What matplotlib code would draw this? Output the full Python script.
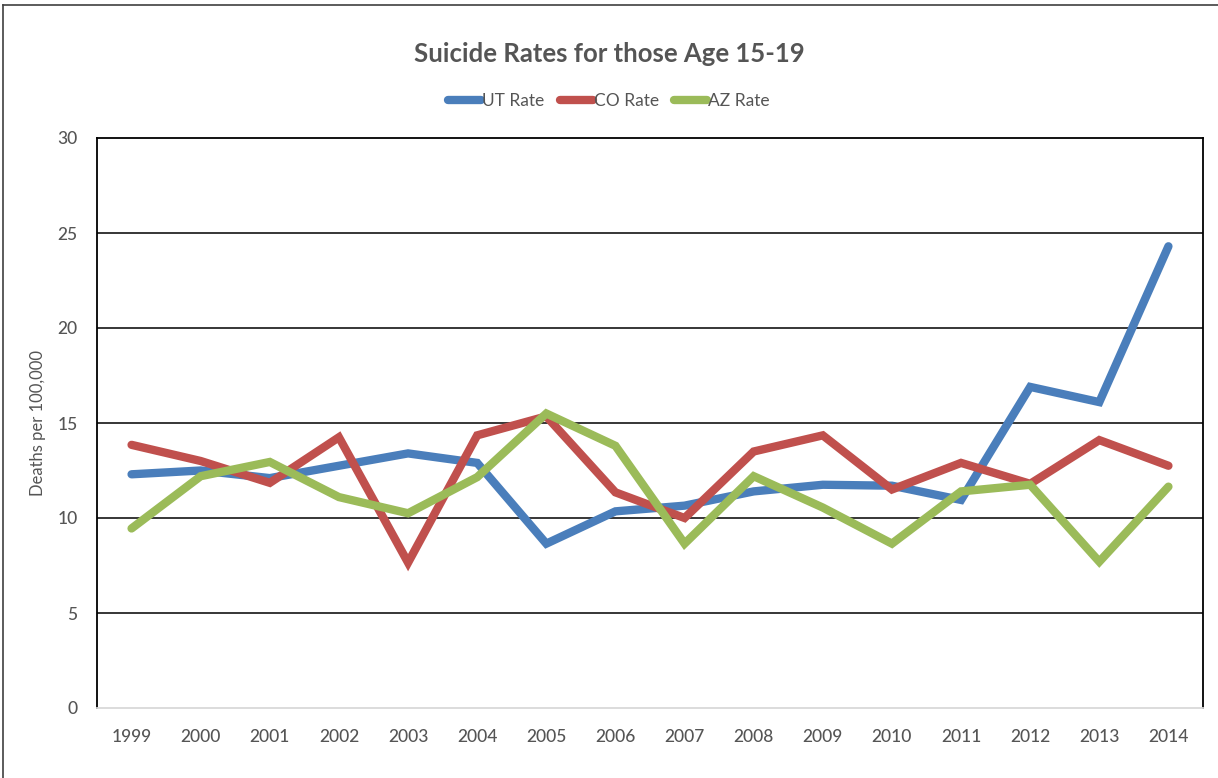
import matplotlib
matplotlib.use("Agg")
import matplotlib.pyplot as plt
from matplotlib.lines import Line2D

years = ["1999", "2000", "2001", "2002", "2003", "2004", "2005", "2006",
         "2007", "2008", "2009", "2010", "2011", "2012", "2013", "2014"]
ut_rate = [12.3, 12.5, 12.1, 12.75, 13.4, 12.9, 8.65, 10.35,
           10.65, 11.4, 11.75, 11.7, 10.95, 16.9, 16.1, 24.3]
co_rate = [13.85, 13.0, 11.85, 14.25, 7.65, 14.35, 15.35, 11.35,
           10.0, 13.5, 14.35, 11.5, 12.9, 11.8, 14.1, 12.75]
az_rate = [9.45, 12.2, 12.95, 11.1, 10.25, 12.15, 15.5, 13.8,
           8.65, 12.2, 10.55, 8.65, 11.4, 11.75, 7.7, 11.65]
series_names = ["UT Rate", "CO Rate", "AZ Rate"]
y_ticks = [0, 5, 10, 15, 20, 25, 30]

colors = ["#4A7EBB", "#C0504D", "#9BBB59"]
text_color = "#555555"
font = ["Lato", "DejaVu Sans"]

fig = plt.figure(figsize=(12.18, 7.78), dpi=100)
ax = fig.add_axes([97 / 1218, 70 / 778, (1203 - 97) / 1218, (708 - 138) / 778])

x = list(range(len(years)))
for vals, c, name in zip([ut_rate, co_rate, az_rate], colors, series_names):
    ax.plot(x, vals, color=c, lw=6, solid_joinstyle="miter",
            solid_capstyle="round", label=name, zorder=3)

ax.set_xlim(-0.5, len(years) - 0.5)
ax.set_ylim(0, 30)
ax.set_yticks(y_ticks)
ax.set_yticklabels([str(t) for t in y_ticks], family=font, fontsize=12.5,
                   color=text_color, fontweight="medium")
ax.set_xticks(x)
ax.set_xticklabels(years, family=font, fontsize=12.5, color=text_color,
                   fontweight="medium")
ax.tick_params(axis="both", length=0)
ax.tick_params(axis="y", pad=14)
ax.tick_params(axis="x", pad=15)

for t in y_ticks[1:-1]:
    ax.axhline(t, color="black", lw=1.1, zorder=1)

for side in ["left", "top", "right"]:
    ax.spines[side].set_color("black")
    ax.spines[side].set_linewidth(1.3)
ax.spines["bottom"].set_color("#D9D9D9")
ax.spines["bottom"].set_linewidth(1.3)

ax.set_ylabel("Deaths per 100,000", family=font, fontsize=12,
              color=text_color, labelpad=8)

fig.text(0.5, 1 - 54 / 778, "Suicide Rates for those Age 15-19",
         ha="center", va="center", family=font, fontsize=18.5,
         fontweight="bold", color=text_color)

handles = [Line2D([0], [0], color=c, lw=6, solid_capstyle="round")
           for c in colors]
fig.legend(handles, series_names, loc="center", ncol=3,
           bbox_to_anchor=(0.5, 1 - 101 / 778), frameon=False,
           prop={"family": font, "size": 12.5}, labelcolor=text_color,
           handlelength=1.9, handletextpad=0.05, columnspacing=0.9)

# outer chart frame
fig.add_artist(Line2D([3 / 1218, 3 / 1218], [0, 1 - 5 / 778],
                      transform=fig.transFigure, color="#404040", lw=1.2))
fig.add_artist(Line2D([3 / 1218, 1], [1 - 5 / 778, 1 - 5 / 778],
                      transform=fig.transFigure, color="#404040", lw=1.2))

fig.savefig("out.png", dpi=100, facecolor="white")
